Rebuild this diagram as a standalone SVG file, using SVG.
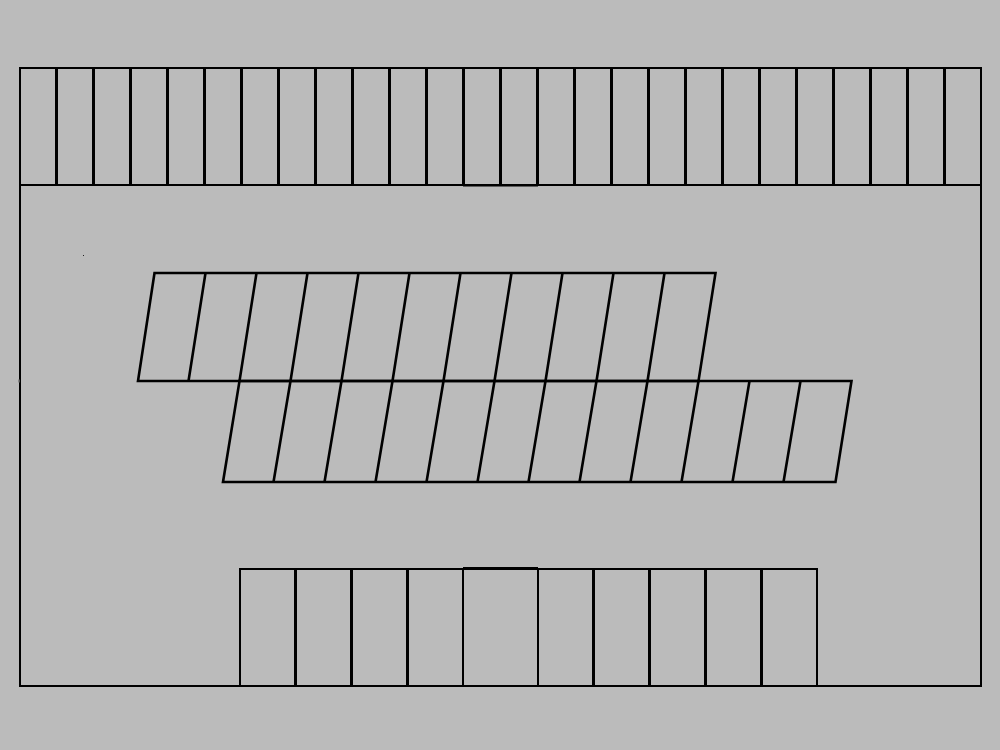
<svg xmlns="http://www.w3.org/2000/svg" width="1000" height="750" viewBox="0 0 1000 750">
  <style>
    .l { fill: none; stroke: #000; stroke-width: 2; }
    .v { fill: none; stroke: #000; stroke-width: 3; }
    .s { fill: none; stroke: #000; stroke-width: 2.6; }
  </style>
  <rect width="1000" height="750" fill="#bbbbbb"/>
  <g id="outer">
    <rect class="l" x="20" y="68" width="961" height="618"/>
    <path class="l" d="M20 185H981"/>
    <path class="l" d="M463 185.5H538"/>
    <path d="M18.5 379.5h1.5v3h-1.5z" fill="#555"/>
    <rect x="83" y="255" width="1" height="1" fill="#222"/>
  </g>
  <g id="top-row">
    <path class="v" d="M56.5 68V185M93.5 68V185M130.5 68V185M167.5 68V185M204.5 68V185M241.5 68V185M278.5 68V185M315.5 68V185M352.5 68V185M389.5 68V185M426.5 68V185M463.5 68V185M500.5 68V185M537.5 68V185M574.5 68V185M611.5 68V185M648.5 68V185M685.5 68V185M722.5 68V185M759.5 68V185M796.5 68V185M833.5 68V185M870.5 68V185M907.5 68V185M944.5 68V185"/>
  </g>
  <g id="upper-slanted-row">
    <path class="s" d="M154.5 273H715.5L698.5 381H138Z"/>
    <path class="s" d="M205.5 273L188.5 381M256.5 273L239.5 381M307.5 273L290.5 381M358.5 273L341.5 381M409.5 273L392.5 381M460.5 273L443.5 381M511.5 273L494.5 381M562.5 273L545.5 381M613.5 273L596.5 381M664.5 273L647.5 381"/>
  </g>
  <g id="lower-slanted-row">
    <path class="s" d="M239.5 381H851.5L835.5 482H223Z"/>
    <path class="s" d="M290.5 381L273.5 482M341.5 381L324.5 482M392.5 381L375.5 482M443.5 381L426.5 482M494.5 381L477.5 482M545.5 381L528.5 482M596.5 381L579.5 482M647.5 381L630.5 482M698.5 381L681.5 482M749.5 381L732.5 482M800.5 381L783.5 482"/>
  </g>
  <g id="bottom-row">
    <path class="l" d="M240 686V569H817V686"/>
    <path class="v" d="M295.5 569V686M351.5 569V686M407.5 569V686M593.5 569V686M649.5 569V686M705.5 569V686M761.5 569V686"/>
    <path class="l" d="M463 569V686M538 569V686"/>
    <path class="l" d="M463 568H538"/>
  </g>
</svg>
